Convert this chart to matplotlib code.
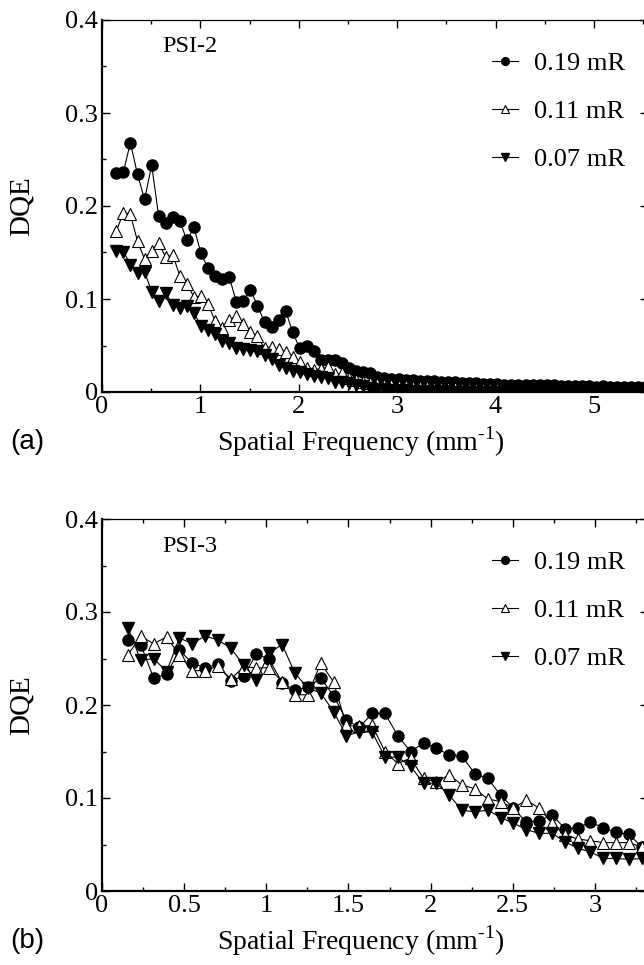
import matplotlib
matplotlib.use("Agg")
import matplotlib.pyplot as plt
from matplotlib.ticker import MultipleLocator, FuncFormatter

# ---------------- data ----------------
labels = ["0.19 mR", "0.11 mR", "0.07 mR"]

freq_a = [0.146, 0.218, 0.289, 0.361, 0.433, 0.505, 0.576, 0.648, 0.720, 0.791,
          0.863, 0.935, 1.006, 1.078, 1.150, 1.222, 1.293, 1.365, 1.437, 1.508,
          1.580, 1.652, 1.723, 1.795, 1.867, 1.939, 2.010, 2.082, 2.154, 2.225,
          2.297, 2.369, 2.440, 2.512, 2.584, 2.656, 2.727, 2.799, 2.871, 2.942,
          3.014, 3.086, 3.157, 3.229, 3.301, 3.373, 3.444, 3.516, 3.588, 3.659,
          3.731, 3.803, 3.874, 3.946, 4.018, 4.090, 4.161, 4.233, 4.305, 4.376,
          4.448, 4.520, 4.591, 4.663, 4.735, 4.807, 4.878, 4.950, 5.022, 5.093,
          5.165, 5.237, 5.308, 5.380, 5.452, 5.524, 5.595]

dqe_a_019 = [0.236, 0.237, 0.268, 0.234, 0.207, 0.244, 0.189, 0.182, 0.188, 0.184,
             0.163, 0.177, 0.149, 0.133, 0.125, 0.122, 0.124, 0.097, 0.098, 0.110,
             0.093, 0.075, 0.070, 0.077, 0.087, 0.064, 0.047, 0.050, 0.044, 0.034,
             0.034, 0.034, 0.031, 0.026, 0.023, 0.022, 0.020, 0.016, 0.015, 0.014,
             0.014, 0.013, 0.013, 0.012, 0.012, 0.012, 0.011, 0.011, 0.011, 0.010,
             0.010, 0.010, 0.009, 0.009, 0.009, 0.008, 0.008, 0.008, 0.008, 0.007,
             0.007, 0.007, 0.007, 0.006, 0.006, 0.006, 0.006, 0.006, 0.005, 0.006,
             0.005, 0.005, 0.005, 0.005, 0.005, 0.005, 0.005]

dqe_a_011 = [0.173, 0.193, 0.191, 0.162, 0.143, 0.152, 0.160, 0.145, 0.147, 0.125,
             0.116, 0.102, 0.103, 0.095, 0.076, 0.069, 0.077, 0.082, 0.073, 0.065,
             0.060, 0.047, 0.048, 0.046, 0.043, 0.038, 0.032, 0.026, 0.024, 0.025,
             0.027, 0.019, 0.020, 0.015, 0.013, 0.011, 0.010, 0.009, 0.008, 0.007,
             0.006, 0.006, 0.005, 0.005, 0.005, 0.004, 0.004, 0.004, 0.004, 0.003,
             0.003, 0.003, 0.003, 0.003, 0.003, 0.002, 0.002, 0.002, 0.002, 0.002,
             0.002, 0.002, 0.002, 0.002, 0.002, 0.001, 0.001, 0.001, 0.001, 0.001,
             0.001, 0.001, 0.001, 0.001, 0.001, 0.001, 0.001]

dqe_a_007 = [0.152, 0.151, 0.137, 0.128, 0.129, 0.108, 0.098, 0.106, 0.094, 0.090,
             0.093, 0.085, 0.071, 0.067, 0.062, 0.055, 0.053, 0.047, 0.046, 0.045,
             0.044, 0.040, 0.036, 0.029, 0.026, 0.023, 0.022, 0.019, 0.017, 0.016,
             0.015, 0.011, 0.011, 0.010, 0.008, 0.006, 0.004, 0.003, 0.003, 0.002,
             0.002, 0.002, 0.001, 0.001, 0.001, 0.001, 0.001, 0.001, 0.000, 0.000,
             0.000, 0.000, 0.000, 0.000, 0.000, 0.000, 0.000, 0.000, 0.000, 0.000,
             0.000, 0.000, 0.000, 0.000, 0.000, 0.000, 0.000, 0.000, 0.000, 0.000,
             0.000, 0.000, 0.000, 0.000, 0.000, 0.000, 0.000]

freq_b = [0.158, 0.236, 0.314, 0.393, 0.471, 0.549, 0.627, 0.705, 0.784, 0.862,
          0.940, 1.018, 1.096, 1.175, 1.253, 1.331, 1.409, 1.487, 1.566, 1.644,
          1.722, 1.800, 1.878, 1.957, 2.035, 2.113, 2.191, 2.269, 2.348, 2.426,
          2.504, 2.582, 2.660, 2.739, 2.817, 2.895, 2.973, 3.051, 3.129, 3.208,
          3.286]

dqe_b_019 = [0.270, 0.265, 0.229, 0.233, 0.259, 0.245, 0.240, 0.244, 0.226, 0.231,
             0.255, 0.249, 0.224, 0.216, 0.219, 0.229, 0.210, 0.184, 0.176, 0.191,
             0.191, 0.167, 0.150, 0.159, 0.154, 0.146, 0.145, 0.126, 0.121, 0.103,
             0.089, 0.074, 0.075, 0.082, 0.067, 0.068, 0.074, 0.068, 0.063, 0.061,
             0.047]

dqe_b_011 = [0.254, 0.274, 0.266, 0.273, 0.254, 0.237, 0.237, 0.242, 0.228, 0.241,
             0.240, 0.240, 0.225, 0.211, 0.211, 0.245, 0.225, 0.178, 0.177, 0.178,
             0.150, 0.137, 0.143, 0.121, 0.117, 0.125, 0.114, 0.110, 0.099, 0.096,
             0.089, 0.098, 0.089, 0.073, 0.060, 0.056, 0.054, 0.052, 0.052, 0.052,
             0.047]

dqe_b_007 = [0.283, 0.248, 0.250, 0.236, 0.272, 0.266, 0.274, 0.270, 0.261, 0.243,
             0.227, 0.256, 0.265, 0.234, 0.218, 0.213, 0.193, 0.167, 0.171, 0.171,
             0.144, 0.144, 0.134, 0.116, 0.116, 0.103, 0.087, 0.085, 0.087, 0.079,
             0.073, 0.066, 0.062, 0.062, 0.053, 0.046, 0.042, 0.035, 0.035, 0.034,
             0.035]

panel_titles = ["PSI-2", "PSI-3"]
panel_tags = ["(a)", "(b)"]
y_ticks = [0, 0.1, 0.2, 0.3, 0.4]

# ---------------- style ----------------
SERIF = ["Liberation Serif", "DejaVu Serif"]
plt.rcParams["font.family"] = SERIF
plt.rcParams["mathtext.fontset"] = "custom"
plt.rcParams["mathtext.rm"] = "Liberation Serif"

W, H = 644, 965
fig = plt.figure(figsize=(W / 100, H / 100), dpi=100)

def fx(px):
    return px / W

def fy(py):
    return 1 - py / H

styles = [
    dict(marker="o", mfc="black", mec="black", ms=8),
    dict(marker="^", mfc="white", mec="black", ms=8.5, mew=0.8),
    dict(marker="v", mfc="black", mec="black", ms=8.5),
]

fmt = FuncFormatter(lambda v, p: "%g" % v)

def make_panel(top_px, xs, series, xmax, major, minor, title, tag):
    left, right, bottom = 102, 648, top_px + 372
    aw, ah = right - left, bottom - top_px
    ax = fig.add_axes([fx(left), fy(bottom), fx(aw), ah / H])
    handles = []
    for ys, st, lab in zip(series, styles, labels):
        h, = ax.plot(xs, ys, color="black", lw=0.8, label=lab, **st)
        handles.append(h)
    ax.set_xlim(0, xmax)
    ax.set_ylim(0, 0.4)
    ax.set_yticks(y_ticks)
    ax.yaxis.set_minor_locator(MultipleLocator(0.05))
    ax.xaxis.set_major_locator(MultipleLocator(major))
    ax.xaxis.set_minor_locator(MultipleLocator(minor))
    ax.xaxis.set_major_formatter(fmt)
    ax.yaxis.set_major_formatter(fmt)
    ax.tick_params(which="both", direction="in", top=True, right=True,
                   labelsize=19, width=1, color="black")
    ax.tick_params(which="major", length=6, pad=3)
    ax.tick_params(which="minor", length=3)
    for s in ["left", "bottom"]:
        ax.spines[s].set_linewidth(1.6)
    for s in ["top", "right"]:
        ax.spines[s].set_linewidth(0.9)
    ax.set_ylabel("DQE", fontsize=21)
    ax.yaxis.set_label_coords((22 - left) / aw, 0.5)
    ax.yaxis.label.set_va("center")
    ax.set_xlabel("Spatial Frequency (mm$^{\\text{-1}}$)", fontsize=20)
    ax.xaxis.set_label_coords((361 - left) / aw, -(442 - 20 - 372) / ah)
    ax.xaxis.label.set_va("center")
    ax.text((190 - left) / aw, 1 - (47 - 20) / ah, title,
            transform=ax.transAxes, fontsize=17.5, ha="center", va="center")
    ax.legend(handles=handles, loc="upper left",
              bbox_to_anchor=((492 - left) / aw, 1 - (52 - 20) / ah),
              frameon=False, fontsize=19, handlelength=1.0, handletextpad=0.6,
              labelspacing=0.92, markerscale=0.7, borderpad=0, borderaxespad=0)
    fig.text(fx(10), fy(top_px + 422), tag, fontsize=20,
             family=["Liberation Sans", "DejaVu Sans"], ha="left", va="center")
    return ax

make_panel(20, freq_a, [dqe_a_019, dqe_a_011, dqe_a_007], 5.55, 1, 0.5,
           panel_titles[0], panel_tags[0])
make_panel(519, freq_b, [dqe_b_019, dqe_b_011, dqe_b_007], 3.323, 0.5, 0.25,
           panel_titles[1], panel_tags[1])

fig.savefig("out.png", dpi=100)
